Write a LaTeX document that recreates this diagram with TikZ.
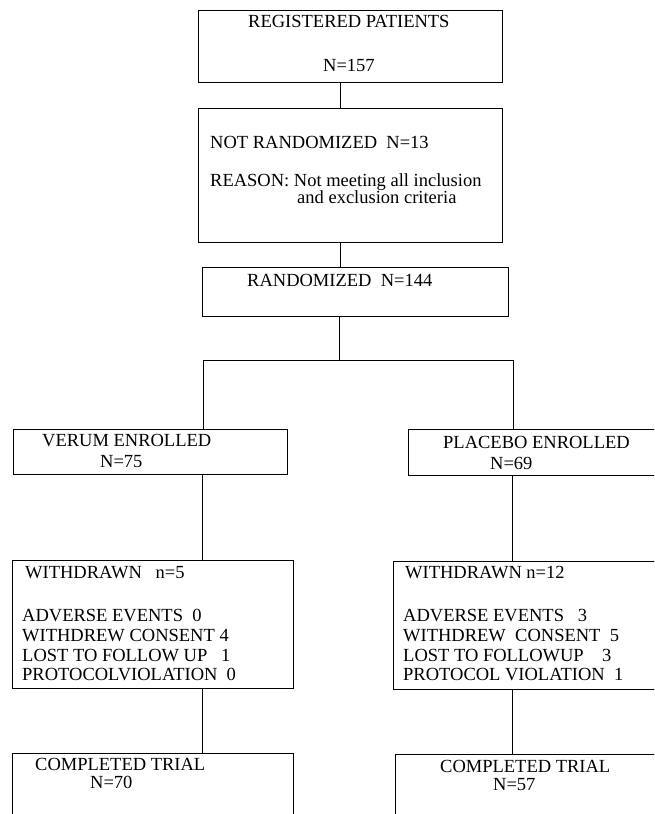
\documentclass[tikz,border=0pt]{standalone}
\usepackage{fontspec}
\setmainfont{Liberation Serif}
\begin{document}
\begin{tikzpicture}[x=1pt,y=-1pt,
  box/.style={draw=black, line width=0.9pt, rectangle, inner sep=0pt},
  lbl/.style={anchor=base west, inner sep=0pt, text depth=0pt, font=\fontsize{18.5}{20}\selectfont},
  conn/.style={draw=black, line width=0.9pt}]
\useasboundingbox (0,0) rectangle (654,814);
\clip (0,0) rectangle (654,814);
% boxes
\node[box, minimum width=304pt, minimum height=72pt] (b1) at (350,46) {};
\node[box, minimum width=304pt, minimum height=134pt] (b2) at (350,175) {};
\node[box, minimum width=306pt, minimum height=49pt] (b3) at (355,291.5) {};
\node[box, minimum width=274pt, minimum height=45pt] (verum) at (150,451.5) {};
\node[box, minimum width=282pt, minimum height=46pt] (placebo) at (549,452) {};
\node[box, minimum width=281pt, minimum height=128pt] (wl) at (152.5,624) {};
\node[box, minimum width=287pt, minimum height=128pt] (wr) at (536.5,625) {};
\node[box, minimum width=281pt, minimum height=80pt] (cl) at (152.5,793) {};
\node[box, minimum width=287pt, minimum height=80pt] (cr) at (538.5,794) {};
% connector x positions
\coordinate (xa) at (340,0);
\coordinate (xb) at (339,0);
\coordinate (split) at (339,360);
\coordinate (sl) at (203,360);
\coordinate (sr) at (513,360);
\coordinate (xl) at (202,0);
\coordinate (xr) at (512,0);
% connectors
\draw[conn] (b1.south -| xa) -- (b2.north -| xa);
\draw[conn] (b2.south -| xa) -- (b3.north -| xa);
\draw[conn] (b3.south -| xb) -- (split);
\draw[conn] (verum.north -| sl) -- (sl) -- (sr) -- (placebo.north -| sr);
\draw[conn] (verum.south -| xl) -- (wl.north -| xl);
\draw[conn] (placebo.south -| xr) -- (wr.north -| xr);
\draw[conn] (wl.south -| xl) -- (cl.north -| xl);
\draw[conn] (wr.south -| xr) -- (cr.north -| xr);
% texts
\node[lbl] (t1a) at (248,27) {REGISTERED PATIENTS};
\node[lbl] (t1b) at (323,71) {N=157};
\node[lbl] (t2a) at (210,148) {NOT RANDOMIZED\ \ N=13};
\node[lbl] (t2b) at (210,186) {REASON: Not meeting all inclusion};
\node[lbl] (t2c) at (297,203) {and exclusion criteria};
\node[lbl] (t3) at (247,286) {RANDOMIZED\ \ N=144};
\node[lbl] (tv1) at (42,446) {VERUM ENROLLED};
\node[lbl] (tv2) at (100,467) {N=75};
\node[lbl] (tp1) at (443,448) {PLACEBO ENROLLED};
\node[lbl] (tp2) at (490,469) {N=69};
\node[lbl] (wl1) at (25,578) {WITHDRAWN\ \ \ n=5};
\node[lbl] (wl2) at (22,621) {ADVERSE EVENTS\ \ 0};
\node[lbl] (wl3) at (22,641) {WITHDREW CONSENT 4};
\node[lbl] (wl4) at (22,661) {LOST TO FOLLOW UP\ \ \ 1};
\node[lbl] (wl5) at (22,680) {PROTOCOLVIOLATION\ \ 0};
\node[lbl] (wr1) at (405,578) {WITHDRAWN n=12};
\node[lbl] (wr2) at (403,621) {ADVERSE EVENTS\ \ \ 3};
\node[lbl] (wr3) at (403,641) {WITHDREW\ \ CONSENT\ \ 5};
\node[lbl] (wr4) at (403,661) {LOST TO FOLLOWUP\ \ \ \ 3};
\node[lbl] (wr5) at (403,680) {PROTOCOL VIOLATION\ \ 1};
\node[lbl] (cl1) at (35,770) {COMPLETED TRIAL};
\node[lbl] (cl2) at (90,788) {N=70};
\node[lbl] (cr1) at (440,772) {COMPLETED TRIAL};
\node[lbl] (cr2) at (493,790) {N=57};
\end{tikzpicture}
\end{document}
